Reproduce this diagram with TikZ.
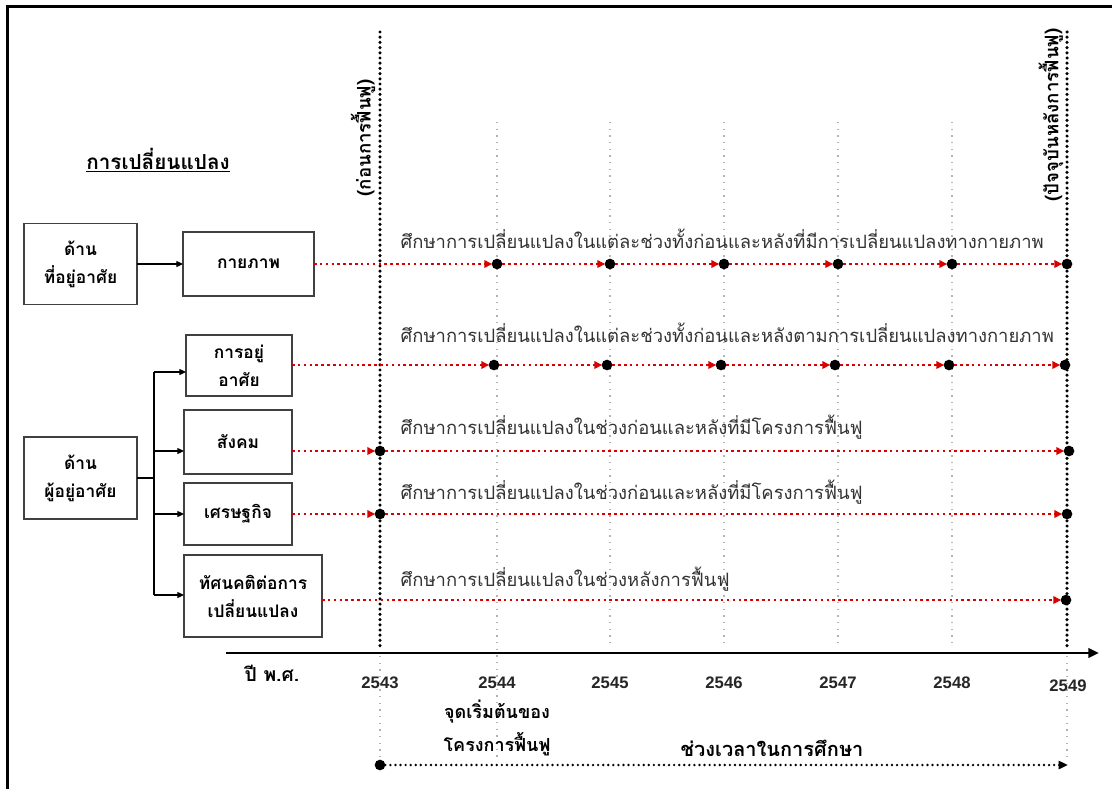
\documentclass[tikz,border=0pt]{standalone}
\usepackage{fontspec}
\setmainfont{Liberation Sans}
\newfontfamily\thaifont[Script=Thai]{Loma}
\usetikzlibrary{arrows.meta}

\tikzset{
  box/.style={draw=black!75, line width=1.1pt, fill=white, inner sep=0pt, outer sep=0pt,
    align=center, font=\thaifont\bfseries\fontsize{13}{21}\selectfont},
  conn/.style={line width=0.9pt, -{Triangle[length=5pt,width=4.5pt]}},
  thickdots/.style={line width=2.6pt, line cap=round, dash pattern=on 0pt off 3.9pt},
  greydots/.style={draw=black!30, line width=1pt, dash pattern=on 1.1pt off 3.9pt},
  redarrow/.style={draw=red!85!black, line width=1.6pt, dash pattern=on 1.9pt off 2.5pt,
    -{Triangle[length=6pt,width=5.5pt,fill=red!90!black]}, shorten >=-0.5pt},
  blackdot/.style={circle, fill=black, inner sep=0pt, outer sep=0pt, minimum size=8pt},
  rowlabel/.style={anchor=base west, text=black!80, font=\thaifont\fontsize{13.8}{15}\selectfont},
  year/.style={font=\bfseries\fontsize{12.5}{14}\selectfont, text=black!85},
  thaibold/.style={font=\thaifont\bfseries\fontsize{13}{24.5}\selectfont, align=center},
}

\begin{document}
\begin{tikzpicture}[x=0.75pt, y=-0.75pt]
\useasboundingbox (0,0) rectangle (1112,789);
\fill[white] (0,0) rectangle (1112,789);

% page frame
\draw[line width=2.2pt] (7.5,789) -- (7.5,6.5) -- (1112,6.5);

% heading
\node[thaibold, font=\thaifont\bfseries\fontsize{15.5}{18}\selectfont] (head) at (158,160) {\underline{การเปลี่ยนแปลง}};

% yearly grid lines
\foreach \x in {610,724,838,952} \draw[greydots] (\x,122) -- (\x,648);
\draw[greydots] (497,122) -- (497,760);
\draw[greydots] (380,656) -- (380,760);
\draw[greydots] (1067,656) -- (1067,760);

% start / end of the rehabilitation period
\draw[thickdots] (380,32) -- (380,650);
\draw[thickdots] (1067,32) -- (1067,650);
\node[thaibold, font=\thaifont\bfseries\fontsize{14}{16}\selectfont, rotate=90] (before) at (363,138) {(ก่อนการฟื้นฟู)};
\node[thaibold, font=\thaifont\bfseries\fontsize{14}{16}\selectfont, rotate=90] (after) at (1051,115) {(ปัจจุบันหลังการฟื้นฟู)};

% category boxes
\node[box, minimum width=113*0.75pt, minimum height=81*0.75pt] (loc) at (80.5,264) {ด้าน\\ที่อยู่อาศัย};
\node[box, minimum width=131*0.75pt, minimum height=64*0.75pt] (phys) at (248.5,264) {กายภาพ};
\node[box, minimum width=113*0.75pt, minimum height=82*0.75pt] (res) at (80.5,478) {ด้าน\\ผู้อยู่อาศัย};
\node[box, minimum width=106*0.75pt, minimum height=61*0.75pt] (live) at (239,365.5) {การอยู่\\อาศัย};
\node[box, minimum width=108*0.75pt, minimum height=64*0.75pt] (soc) at (238,442) {สังคม};
\node[box, minimum width=108*0.75pt, minimum height=62*0.75pt] (eco) at (238,514) {เศรษฐกิจ};
\node[box, minimum width=138*0.75pt, minimum height=82*0.75pt] (att) at (253,596) {ทัศนคติต่อการ\\เปลี่ยนแปลง};

% box connectors
\draw[conn] (loc.east) -- (phys.west);
\coordinate (br) at (154,478);
\coordinate (k1) at (154,372);
\coordinate (k2) at (154,451);
\coordinate (k3) at (154,514);
\coordinate (k4) at (154,595);
\draw[line width=0.9pt] (res.east) -- (br);
\draw[line width=0.9pt] (k1) -- (k4);
\draw[conn] (k1) -- (k1 -| live.west);
\draw[conn] (k2) -- (k2 -| soc.west);
\draw[conn] (k3) -- (k3 -| eco.west);
\draw[conn] (k4) -- (k4 -| att.west);

% row 1: physical
\foreach \x [count=\i] in {497,610,724,838,952,1067} \node[blackdot] (a\i) at (\x,264) {};
\draw[redarrow] (phys.east) -- (a1);
\foreach \i [evaluate=\i as \j using int(\i+1)] in {1,...,5} \draw[redarrow] (a\i) -- (a\j);
\node[rowlabel] (la) at (396,248) {ศึกษาการเปลี่ยนแปลงในแต่ละช่วงทั้งก่อนและหลังที่มีการเปลี่ยนแปลงทางกายภาพ};

% row 2: living
\foreach \x [count=\i] in {494,607,721,835,949,1065} \node[blackdot] (b\i) at (\x,365) {};
\draw[redarrow] (live.east |- b1) -- (b1);
\foreach \i [evaluate=\i as \j using int(\i+1)] in {1,...,5} \draw[redarrow] (b\i) -- (b\j);
\node[rowlabel] (lb) at (396,342) {ศึกษาการเปลี่ยนแปลงในแต่ละช่วงทั้งก่อนและหลังตามการเปลี่ยนแปลงทางกายภาพ};

% row 3: society
\node[blackdot] (c1) at (380,451) {};
\node[blackdot] (c2) at (1069,451) {};
\draw[redarrow] (soc.east |- c1) -- (c1);
\draw[redarrow] (c1) -- (c2);
\node[rowlabel] (lc) at (396,434) {ศึกษาการเปลี่ยนแปลงในช่วงก่อนและหลังที่มีโครงการฟื้นฟู};

% row 4: economy
\node[blackdot] (e1) at (380,514) {};
\node[blackdot] (e2) at (1067,514) {};
\draw[redarrow] (eco.east |- e1) -- (e1);
\draw[redarrow] (e1) -- (e2);
\node[rowlabel] (le) at (396,499) {ศึกษาการเปลี่ยนแปลงในช่วงก่อนและหลังที่มีโครงการฟื้นฟู};

% row 5: attitude
\node[blackdot] (f1) at (1066,600) {};
\draw[redarrow] (att.east |- f1) -- (f1);
\node[rowlabel] (lf) at (396,586) {ศึกษาการเปลี่ยนแปลงในช่วงหลังการฟื้นฟู};

% time axis
\coordinate (ax0) at (226,653);
\coordinate (ax1) at (1099,653);
\draw[line width=2.2pt, -{Triangle[length=8pt,width=7pt]}] (ax0) -- (ax1);
\node[thaibold, font=\thaifont\bfseries\fontsize{14.5}{17}\selectfont] (era) at (272,673) {ปี พ.ศ.};
\foreach \x/\y in {380/2543,497/2544,610/2545,724/2546,838/2547,952/2548} \node[year] (y\y) at (\x,683) {\y};
\node[year] (y2549) at (1068,686) {2549};
\node[thaibold, font=\thaifont\bfseries\fontsize{13.5}{24.5}\selectfont] (start) at (497,728) {จุดเริ่มต้นของ\\โครงการฟื้นฟู};

% study period
\node[blackdot] (p0) at (380,765) {};
\coordinate (p1) at (1068,765);
\draw[line width=2pt, line cap=round, dash pattern=on 0pt off 3.8pt, -{Triangle[length=7pt,width=6pt]}] (p0) -- (p1);
\node[thaibold, font=\thaifont\bfseries\fontsize{15}{18}\selectfont] (period) at (772,748) {ช่วงเวลาในการศึกษา};
\end{tikzpicture}
\end{document}
